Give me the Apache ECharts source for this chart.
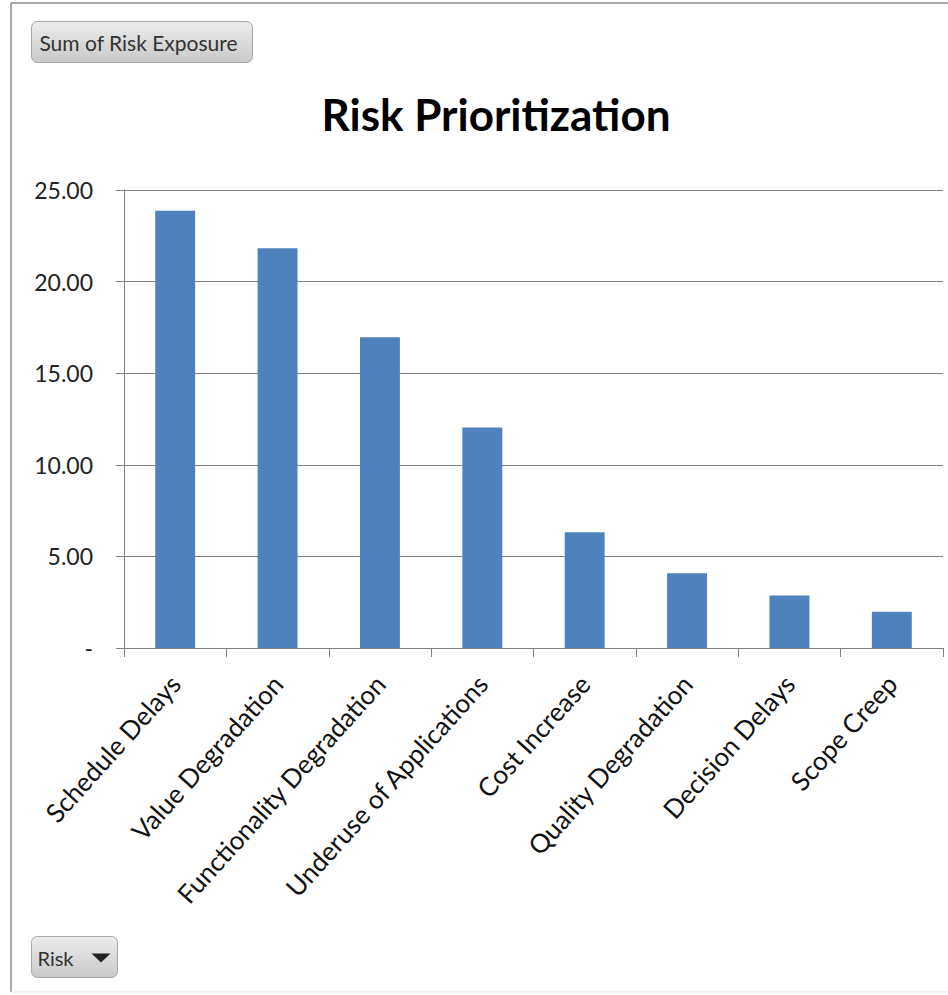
<!DOCTYPE html>
<html>
<head>
<meta charset="utf-8">
<title>Risk Prioritization</title>
<script src="https://cdn.jsdelivr.net/npm/echarts@6/dist/echarts.min.js"></script>
<style>
  html, body { margin: 0; padding: 0; background: #ffffff; }
  #chart { width: 948px; height: 995px; }
</style>
</head>
<body>
<div id="chart"></div>
<script>
// Risk categories, sorted by exposure
const categories = [
  'Schedule Delays',
  'Value Degradation',
  'Functionality Degradation',
  'Underuse of Applications',
  'Cost Increase',
  'Quality Degradation',
  'Decision Delays',
  'Scope Creep'
];

// Sum of risk exposure per category
const exposure = [23.87, 21.82, 16.96, 12.03, 6.32, 4.08, 2.86, 1.98];

// Value axis ticks
const yTicks = [0, 5, 10, 15, 20, 25];

const FONT = 'Lato, "Open Sans", sans-serif';

const chart = echarts.init(document.getElementById('chart'), null, { renderer: 'svg' });

chart.setOption({
  backgroundColor: '#ffffff',
  animation: false,
  title: {
    text: 'Risk Prioritization',
    left: 491,
    textAlign: 'center',
    top: 87,
    textStyle: { fontFamily: FONT, fontWeight: 'bold', fontSize: 44, color: '#000000' }
  },
  grid: { left: 124, right: 5, top: 190, bottom: 347, containLabel: false },
  xAxis: {
    type: 'category',
    data: categories,
    axisLine: { show: true, lineStyle: { color: '#808080', width: 1 } },
    axisTick: { show: true, alignWithLabel: false, length: 9, lineStyle: { color: '#808080' } },
    axisLabel: {
      interval: 0,
      rotate: 48,
      margin: 31,
      fontFamily: FONT,
      fontSize: 26,
      color: '#111111'
    }
  },
  yAxis: {
    type: 'value',
    min: yTicks[0],
    max: yTicks[yTicks.length - 1],
    interval: yTicks[1] - yTicks[0],
    axisLine: { show: true, lineStyle: { color: '#808080', width: 1 } },
    axisTick: { show: true, length: 8, lineStyle: { color: '#808080' } },
    splitLine: { show: true, lineStyle: { color: '#808080', width: 1 } },
    axisLabel: {
      margin: 31,
      fontFamily: FONT,
      fontSize: 23,
      color: '#222222',
      formatter: v => (v === 0 ? '-' : v.toFixed(2))
    }
  },
  series: [{
    name: 'Sum of Risk Exposure',
    type: 'bar',
    data: exposure,
    barWidth: '39%',
    itemStyle: { color: '#4f81bd' }
  }],
  graphic: [
    // outer frame (left, top, faint bottom)
    { type: 'line', shape: { x1: 11, y1: 3, x2: 11, y2: 992 }, style: { stroke: '#8c8c8c', lineWidth: 1.5 } },
    { type: 'line', shape: { x1: 11, y1: 3, x2: 948, y2: 3 }, style: { stroke: '#8c8c8c', lineWidth: 1.5 } },
    { type: 'line', shape: { x1: 11, y1: 992, x2: 948, y2: 992 }, style: { stroke: '#e6e6e6', lineWidth: 1 } },
    // value field button
    {
      type: 'group', left: 31, top: 21,
      children: [
        {
          type: 'rect',
          shape: { x: 0, y: 0, width: 221, height: 41, r: 6 },
          style: {
            fill: new echarts.graphic.LinearGradient(0, 0, 0, 1, [
              { offset: 0, color: '#ececec' },
              { offset: 1, color: '#c9c9c9' }
            ]),
            stroke: '#a6a6a6', lineWidth: 1
          }
        },
        {
          type: 'text', x: 107, y: 21,
          style: { text: 'Sum of Risk Exposure', font: '21px ' + FONT, fill: '#333333', align: 'center', verticalAlign: 'middle' }
        }
      ]
    },
    // axis field button
    {
      type: 'group', left: 31, top: 936,
      children: [
        {
          type: 'rect',
          shape: { x: 0, y: 0, width: 86, height: 41, r: 6 },
          style: {
            fill: new echarts.graphic.LinearGradient(0, 0, 0, 1, [
              { offset: 0, color: '#ececec' },
              { offset: 1, color: '#c9c9c9' }
            ]),
            stroke: '#a6a6a6', lineWidth: 1
          }
        },
        {
          type: 'text', x: 6, y: 21,
          style: { text: 'Risk', font: '20px ' + FONT, fill: '#333333', align: 'left', verticalAlign: 'middle' }
        },
        {
          type: 'polygon',
          shape: { points: [[60, 17], [79, 17], [69.5, 26]] },
          style: { fill: '#222222' }
        }
      ]
    }
  ]
});
</script>
</body>
</html>
